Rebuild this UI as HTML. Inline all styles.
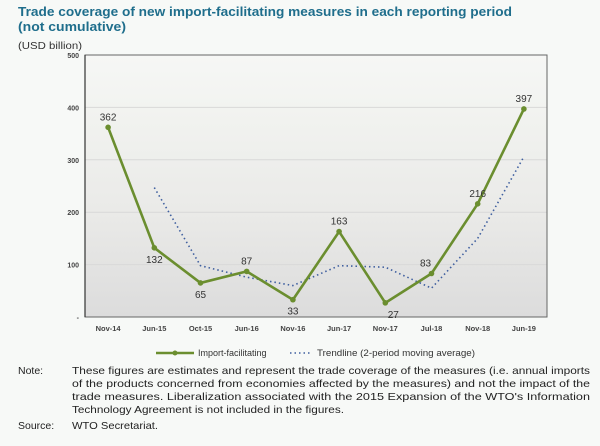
<!DOCTYPE html>
<html><head><meta charset="utf-8"><style>
html,body{margin:0;padding:0;background:#f7f9f7;}
svg{display:block;font-family:"Liberation Sans",sans-serif;}
</style></head><body>
<svg id="c" width="600" height="446" viewBox="0 0 600 446">
<defs>
<linearGradient id="bg" x1="0" y1="0" x2="0" y2="1">
<stop offset="0" stop-color="#f6f7f5"/><stop offset="0.25" stop-color="#f1f2ef"/>
<stop offset="0.6" stop-color="#eaeae8"/><stop offset="1" stop-color="#dcdcdc"/>
</linearGradient>
</defs>
<text x="18" y="16" font-size="12.5" font-weight="bold" fill="#1f6e8c" textLength="494" lengthAdjust="spacingAndGlyphs">Trade coverage of new import-facilitating measures in each reporting period</text>
<text x="18" y="31" font-size="12.5" font-weight="bold" fill="#1f6e8c" textLength="108" lengthAdjust="spacingAndGlyphs">(not cumulative)</text>
<text x="18" y="49" font-size="10" fill="#333" textLength="64" lengthAdjust="spacingAndGlyphs">(USD billion)</text>
<g id="plot"></g>
<g>
<line x1="156" y1="353" x2="194" y2="353" stroke="#6b8e2f" stroke-width="2.5"/>
<circle cx="175" cy="353" r="2.5" fill="#6b8e2f"/>
<text x="198" y="356" font-size="9" fill="#333">Import-facilitating</text>
<line x1="290" y1="353" x2="312" y2="353" stroke="#3f5f9f" stroke-width="1.6" stroke-dasharray="1.5,3"/>
<text x="317" y="356" font-size="9" fill="#333" textLength="158" lengthAdjust="spacingAndGlyphs">Trendline (2-period moving average)</text>
</g>
<g font-size="10.5" fill="#222">
<text x="18" y="374">Note:</text>
<text x="72" y="374" textLength="518" lengthAdjust="spacingAndGlyphs">These figures are estimates and represent the trade coverage of the measures (i.e. annual imports</text>
<text x="72" y="387" textLength="518" lengthAdjust="spacingAndGlyphs">of the products concerned from economies affected by the measures) and not the impact of the</text>
<text x="72" y="400" textLength="518" lengthAdjust="spacingAndGlyphs">trade measures. Liberalization associated with the 2015 Expansion of the WTO's Information</text>
<text x="72" y="413" textLength="272" lengthAdjust="spacingAndGlyphs">Technology Agreement is not included in the figures.</text>
<text x="18" y="429">Source:</text>
<text x="72" y="429" textLength="86" lengthAdjust="spacingAndGlyphs">WTO Secretariat.</text>
</g>
</svg>
<script>
const categories=["Nov-14","Jun-15","Oct-15","Jun-16","Nov-16","Jun-17","Nov-17","Jul-18","Nov-18","Jun-19"];
const importValues=[362,132,65,87,33,163,27,83,216,397];
const trendValues=[null,247,98,76,60,98,95,55,150,306];
const yTicks=[0,100,200,300,400,500];
const yTickLabels=["-","100","200","300","400","500"];
const NS="http://www.w3.org/2000/svg";
const L=85,R=547,T=55,B=317;
const band=(R-L)/categories.length;
const x=i=>L+band*(i+0.5);
const y=v=>B-(v/500)*(B-T);
const g=document.getElementById('plot');
function mk(t,a,p){const e=document.createElementNS(NS,t);for(const k in a)e.setAttribute(k,a[k]);(p||g).appendChild(e);return e;}
let bg=mk('rect',{x:L,y:T,width:R-L,height:B-T,fill:'url(#bg)'});


yTicks.forEach((t,i)=>{
 if(t>0&&t<500){let gl=mk('line',{x1:L,x2:R,y1:y(t),y2:y(t),stroke:'#d8d8d8','stroke-width':1});
 
 }
 let tx=mk('text',{x:L-6,y:y(t)+3,'font-size':7,'font-weight':'bold',fill:'#444','text-anchor':'end'});
 tx.textContent=yTickLabels[i];
 
 
});
mk('rect',{x:L,y:T,width:R-L,height:B-T,fill:'none',stroke:'#666','stroke-width':1});
mk('line',{x1:L,x2:L,y1:T,y2:B,stroke:'#333','stroke-width':1.2});
categories.forEach((c,i)=>{
 let tx=mk('text',{x:x(i),y:B+14,'font-size':7.5,'font-weight':'bold',fill:'#444','text-anchor':'middle'});
 tx.textContent=c;
 
 
});
let tp=[];trendValues.forEach((v,i)=>{if(v!=null)tp.push(x(i)+','+y(v));});
let tl=mk('polyline',{points:tp.join(' '),fill:'none',stroke:'#3f5f9f','stroke-width':1.6,'stroke-dasharray':'1.5,3'});


let pl=mk('polyline',{points:importValues.map((v,i)=>x(i)+','+y(v)).join(' '),fill:'none',stroke:'#6b8e2f','stroke-width':2.6,'stroke-linejoin':'round'});


const below=[false,true,true,false,true,false,true,false,false,false];
importValues.forEach((v,i)=>{
 let c=mk('circle',{cx:x(i),cy:y(v),r:2.8,fill:'#6b8e2f'});
 
 
 let dx=(i==6)?8:(i==7?-6:0);
 let t=mk('text',{x:x(i)+dx,y:below[i]?y(v)+15:y(v)-7,'font-size':10,fill:'#333','text-anchor':'middle'});
 t.textContent=v;
 
 
});
</script>
</body></html>
